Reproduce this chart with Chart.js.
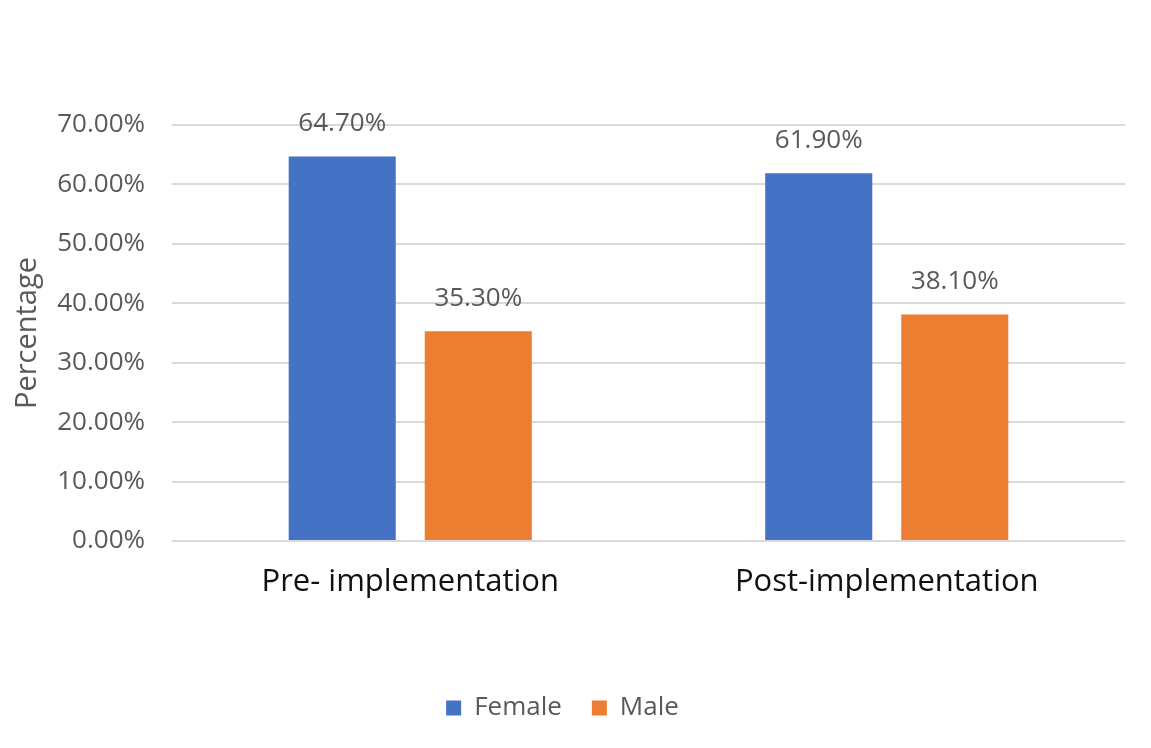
<!DOCTYPE html>
<html>
<head>
<meta charset="utf-8">
<script src="https://cdn.jsdelivr.net/npm/chart.js@4.4.1/dist/chart.umd.min.js"></script>
<style>
  html, body { margin: 0; padding: 0; background: #ffffff; }
  #wrap { width: 1151px; height: 748px; position: relative; }
</style>
</head>
<body>
<div id="wrap"><canvas id="chart"></canvas></div>
<script>
// Gender share before and after implementation
const categories = ['Pre- implementation', 'Post-implementation'];
const femaleValues = [64.7, 61.9];
const maleValues = [35.3, 38.1];
const seriesNames = ['Female', 'Male'];
const yTicks = [0, 10, 20, 30, 40, 50, 60, 70];

const FONT = "'Open Sans', 'Noto Sans', sans-serif";

// Writes each bar's value above it as a percentage
const valueLabels = {
  id: 'valueLabels',
  afterDatasetsDraw(chart) {
    const ctx = chart.ctx;
    ctx.save();
    ctx.font = "26px " + FONT;
    ctx.fillStyle = '#595959';
    ctx.textAlign = 'center';
    ctx.textBaseline = 'middle';
    chart.data.datasets.forEach((ds, di) => {
      chart.getDatasetMeta(di).data.forEach((bar, i) => {
        ctx.fillText(ds.data[i].toFixed(2) + '%', bar.x, bar.y - 33);
      });
    });
    ctx.restore();
  }
};

new Chart(document.getElementById('chart'), {
  type: 'bar',
  data: {
    labels: categories,
    datasets: [
      { label: seriesNames[0], data: femaleValues, backgroundColor: '#4472c4' },
      { label: seriesNames[1], data: maleValues, backgroundColor: '#ed7d31' }
    ]
  },
  options: {
    responsive: true,
    maintainAspectRatio: false,
    animation: false,
    layout: { padding: { top: 125, right: 26, bottom: 17, left: 0 } },
    datasets: { bar: { categoryPercentage: 0.571, barPercentage: 0.787 } },
    plugins: {
      legend: {
        position: 'bottom',
        labels: {
          font: { family: FONT, size: 26 },
          color: '#595959',
          boxWidth: 15,
          boxHeight: 15,
          padding: 30
        }
      },
      tooltip: { enabled: false }
    },
    scales: {
      x: {
        grid: { display: false, drawTicks: false },
        border: { display: false },
        ticks: {
          font: { family: FONT, size: 31 },
          color: '#111111',
          padding: 23
        },
        afterFit(scale) { scale.height = 124; }
      },
      y: {
        min: 0,
        max: 70,
        afterBuildTicks(scale) { scale.ticks = yTicks.map(v => ({ value: v })); },
        afterFit(scale) { scale.width = 172; },
        grid: { color: '#d9d9d9', lineWidth: 2, drawTicks: false },
        border: { display: false },
        ticks: {
          font: { family: FONT, size: 26 },
          color: '#595959',
          padding: 27,
          callback: v => v.toFixed(2) + '%'
        },
        title: {
          display: true,
          text: 'Percentage',
          font: { family: FONT, size: 29 },
          color: '#595959',
          padding: { top: 10, bottom: 0 }
        }
      }
    }
  },
  plugins: [valueLabels]
});
</script>
</body>
</html>
